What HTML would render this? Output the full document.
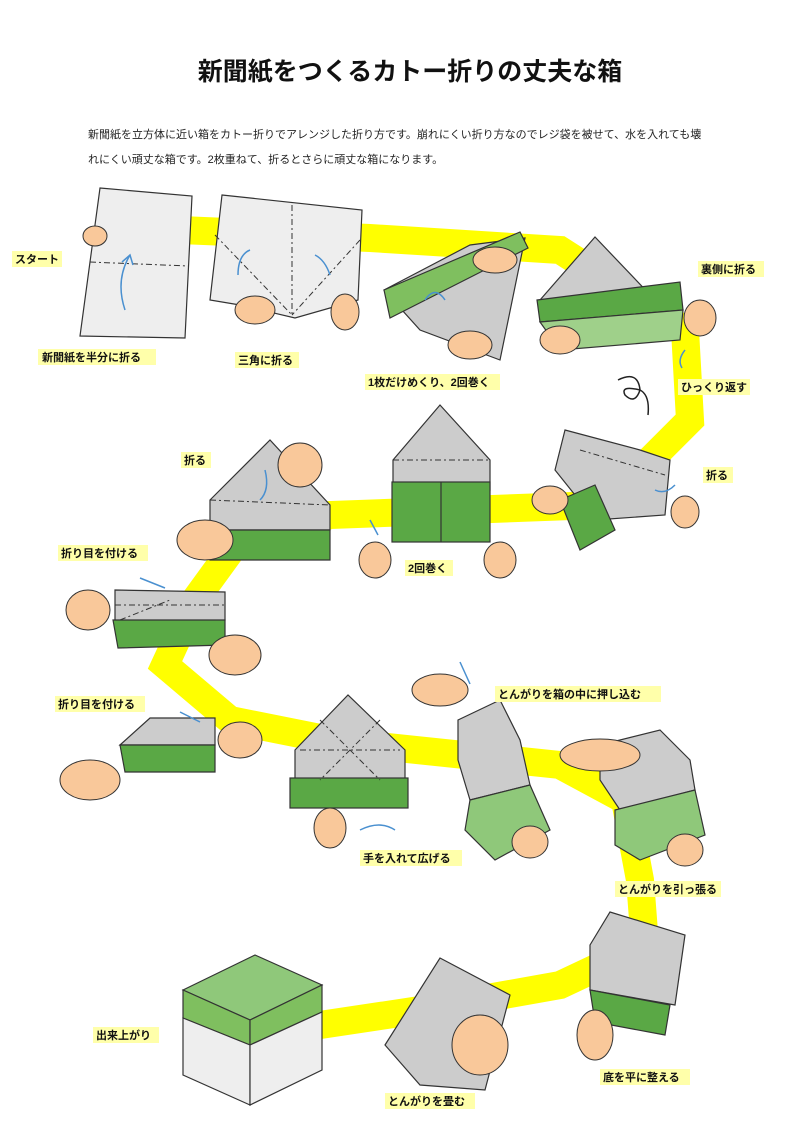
<!DOCTYPE html>
<html><head><meta charset="utf-8"><style>
html,body{margin:0;padding:0;background:#fff;}
body{width:800px;height:1128px;overflow:hidden;font-family:"Liberation Sans","Noto Sans CJK JP",sans-serif;}
svg text{font-family:"Liberation Sans","Noto Sans CJK JP",sans-serif;}
</style></head><body>
<svg width="800" height="1128" viewBox="0 0 800 1128" xmlns="http://www.w3.org/2000/svg">
<text x="410" y="80" font-size="25" font-weight="bold" text-anchor="middle" fill="#111">新聞紙をつくるカトー折りの丈夫な箱</text>
<text x="88" y="138" font-size="11" fill="#222">新聞紙を立方体に近い箱をカトー折りでアレンジした折り方です。崩れにくい折り方なのでレジ袋を被せて、水を入れても壊</text>
<text x="88" y="163" font-size="11" fill="#222">れにくい頑丈な箱です。2枚重ねて、折るとさらに頑丈な箱になります。</text>

<polyline points="180,230 370,238 560,250 685,330 690,420 640,470 600,505 330,515 235,545 195,600 165,665 230,720 340,742 560,765 625,800 640,880 645,945 560,985 420,1010 320,1025" fill="none" stroke="#ffff00" stroke-width="28" stroke-linejoin="miter"/>

<g stroke="#333" stroke-width="1.2">
<polygon points="100,188 192,196 185,338 80,336" fill="#eee"/>
<polygon points="222,195 362,210 358,300 295,318 240,305 210,300" fill="#eee"/>
<polygon points="384,290 470,245 525,238 500,360 420,330" fill="#ccc"/>
<polygon points="384,290 520,232 528,248 390,318" fill="#7fbf5f"/>
<polygon points="540,300 595,237 655,300" fill="#ccc"/>
<polygon points="537,300 680,282 683,310 540,322" fill="#5aa845"/>
<polygon points="540,322 683,310 680,340 560,350" fill="#9fd08a"/>
<polygon points="565,430 640,450 670,460 665,515 595,520 555,470" fill="#ccc"/>
<polygon points="560,500 595,485 615,530 580,550" fill="#5aa845"/>
<polygon points="393,460 440,405 490,460 490,490 393,490" fill="#ccc"/>
<rect x="392" y="482" width="98" height="60" fill="#5aa845"/>
<line x1="441" y1="482" x2="441" y2="542"/>
<polygon points="210,500 270,440 330,505 330,530 210,530" fill="#ccc"/>
<polygon points="205,530 330,530 330,560 210,560" fill="#5aa845"/>
<polygon points="115,590 225,592 225,620 115,622" fill="#ccc"/>
<polygon points="113,620 225,620 225,645 118,648" fill="#5aa845"/>
<polygon points="120,745 150,718 215,718 215,745" fill="#ccc"/>
<polygon points="120,745 215,745 215,772 125,772" fill="#5aa845"/>
<polygon points="295,750 348,695 405,750 405,790 295,790" fill="#ccc"/>
<rect x="290" y="778" width="118" height="30" fill="#5aa845"/>
<polygon points="458,720 500,700 520,740 530,785 470,800 458,760" fill="#ccc"/>
<polygon points="470,800 530,785 550,830 495,860 465,830" fill="#8fc87a"/>
<polygon points="600,745 660,730 690,760 695,790 620,810 600,780" fill="#ccc"/>
<polygon points="615,810 695,790 705,835 640,860 615,845" fill="#8fc87a"/>
<polygon points="590,945 610,912 685,935 675,1005 590,990" fill="#ccc"/>
<polygon points="590,990 670,1005 665,1035 595,1022" fill="#5aa845"/>
<polygon points="385,1045 440,958 510,995 485,1090 420,1085" fill="#ccc"/>
<polygon points="183,990 255,955 322,985 250,1020" fill="#8fc87a"/>
<polygon points="183,990 250,1020 250,1045 183,1018" fill="#7fbf5f"/>
<polygon points="250,1020 322,985 322,1012 250,1045" fill="#7fbf5f"/>
<polygon points="183,1018 250,1045 250,1105 183,1075" fill="#eee"/>
<polygon points="250,1045 322,1012 322,1070 250,1105" fill="#eee"/>
</g>

<!-- fold lines -->
<g stroke="#333" stroke-width="1" stroke-dasharray="6,3,2,3" fill="none">
<line x1="90" y1="262" x2="188" y2="266"/>
<line x1="292" y1="205" x2="292" y2="315"/>
<line x1="215" y1="235" x2="292" y2="315"/>
<line x1="360" y1="240" x2="292" y2="315"/>
<line x1="393" y1="460" x2="490" y2="460"/>
<line x1="210" y1="500" x2="330" y2="505"/>
<line x1="300" y1="750" x2="400" y2="750"/>
<line x1="320" y1="720" x2="380" y2="780"/>
<line x1="380" y1="720" x2="320" y2="780"/>
<line x1="115" y1="605" x2="225" y2="605"/>
<line x1="120" y1="620" x2="170" y2="600"/>
<line x1="580" y1="450" x2="665" y2="475"/>
<line x1="180" y1="1020" x2="180" y2="1020"/>
</g>
<!-- blue arrows -->
<g stroke="#4a90d0" stroke-width="1.5" fill="none">
<path d="M125,310 q-10,-30 5,-55"/><path d="M122,262 l8,-7 l3,10"/>
<path d="M238,275 q0,-20 12,-25"/>
<path d="M330,275 q-5,-15 -15,-20"/>
<path d="M425,300 q10,-15 20,0"/>
<path d="M685,350 q-8,10 -3,18"/>
<path d="M655,490 q10,5 20,-5"/>
<path d="M265,470 q5,20 -5,30"/>
<path d="M140,578 l25,10"/><path d="M180,712 l20,10"/>
<path d="M360,830 q20,-10 35,0"/>
<path d="M460,662 l10,22"/>
<path d="M370,520 l8,15"/>
</g>

<g fill="#f9c89a" stroke="#333" stroke-width="1">
<ellipse cx="95" cy="236" rx="12" ry="10"/>
<ellipse cx="255" cy="310" rx="20" ry="14"/>
<ellipse cx="345" cy="312" rx="14" ry="18"/>
<ellipse cx="495" cy="260" rx="22" ry="13"/>
<ellipse cx="470" cy="345" rx="22" ry="14"/>
<ellipse cx="560" cy="340" rx="20" ry="14"/>
<ellipse cx="700" cy="318" rx="16" ry="18"/>
<ellipse cx="550" cy="500" rx="18" ry="14"/>
<ellipse cx="685" cy="512" rx="14" ry="16"/>
<ellipse cx="375" cy="560" rx="16" ry="18"/>
<ellipse cx="500" cy="560" rx="16" ry="18"/>
<ellipse cx="300" cy="465" rx="22" ry="22"/>
<ellipse cx="205" cy="540" rx="28" ry="20"/>
<ellipse cx="88" cy="610" rx="22" ry="20"/>
<ellipse cx="235" cy="655" rx="26" ry="20"/>
<ellipse cx="90" cy="780" rx="30" ry="20"/>
<ellipse cx="240" cy="740" rx="22" ry="18"/>
<ellipse cx="330" cy="828" rx="16" ry="20"/>
<ellipse cx="440" cy="690" rx="28" ry="16"/>
<ellipse cx="530" cy="842" rx="18" ry="16"/>
<ellipse cx="600" cy="755" rx="40" ry="16"/>
<ellipse cx="685" cy="850" rx="18" ry="16"/>
<ellipse cx="595" cy="1035" rx="18" ry="25"/>
<ellipse cx="480" cy="1045" rx="28" ry="30"/>
</g>

<g font-size="11" font-weight="bold" fill="#111">
<rect x="12" y="251" width="50" height="16" fill="#ffffaa"/><text x="15" y="263">スタート</text>
<rect x="38" y="349" width="118" height="16" fill="#ffffaa"/><text x="42" y="361">新聞紙を半分に折る</text>
<rect x="235" y="352" width="64" height="16" fill="#ffffaa"/><text x="238" y="364">三角に折る</text>
<rect x="365" y="374" width="135" height="16" fill="#ffffaa"/><text x="368" y="386">1枚だけめくり、2回巻く</text>
<rect x="698" y="261" width="66" height="16" fill="#ffffaa"/><text x="701" y="273">裏側に折る</text>
<rect x="678" y="379" width="72" height="16" fill="#ffffaa"/><text x="681" y="391">ひっくり返す</text>
<rect x="703" y="467" width="30" height="16" fill="#ffffaa"/><text x="706" y="479">折る</text>
<rect x="181" y="452" width="30" height="16" fill="#ffffaa"/><text x="184" y="464">折る</text>
<rect x="405" y="560" width="48" height="16" fill="#ffffaa"/><text x="408" y="572">2回巻く</text>
<rect x="58" y="545" width="90" height="16" fill="#ffffaa"/><text x="61" y="557">折り目を付ける</text>
<rect x="55" y="696" width="90" height="16" fill="#ffffaa"/><text x="58" y="708">折り目を付ける</text>
<rect x="495" y="686" width="166" height="16" fill="#ffffaa"/><text x="498" y="698">とんがりを箱の中に押し込む</text>
<rect x="360" y="850" width="102" height="16" fill="#ffffaa"/><text x="363" y="862">手を入れて広げる</text>
<rect x="615" y="881" width="106" height="16" fill="#ffffaa"/><text x="618" y="893">とんがりを引っ張る</text>
<rect x="93" y="1027" width="66" height="16" fill="#ffffaa"/><text x="96" y="1039">出来上がり</text>
<rect x="385" y="1093" width="90" height="16" fill="#ffffaa"/><text x="388" y="1105">とんがりを畳む</text>
<rect x="600" y="1069" width="90" height="16" fill="#ffffaa"/><text x="603" y="1081">底を平に整える</text>
</g>
<path d="M618,380 q20,-10 22,10 q-5,15 -15,5 q-5,-10 15,-5 q10,5 8,25" fill="none" stroke="#222" stroke-width="1.5"/>
</svg>
</body></html>
